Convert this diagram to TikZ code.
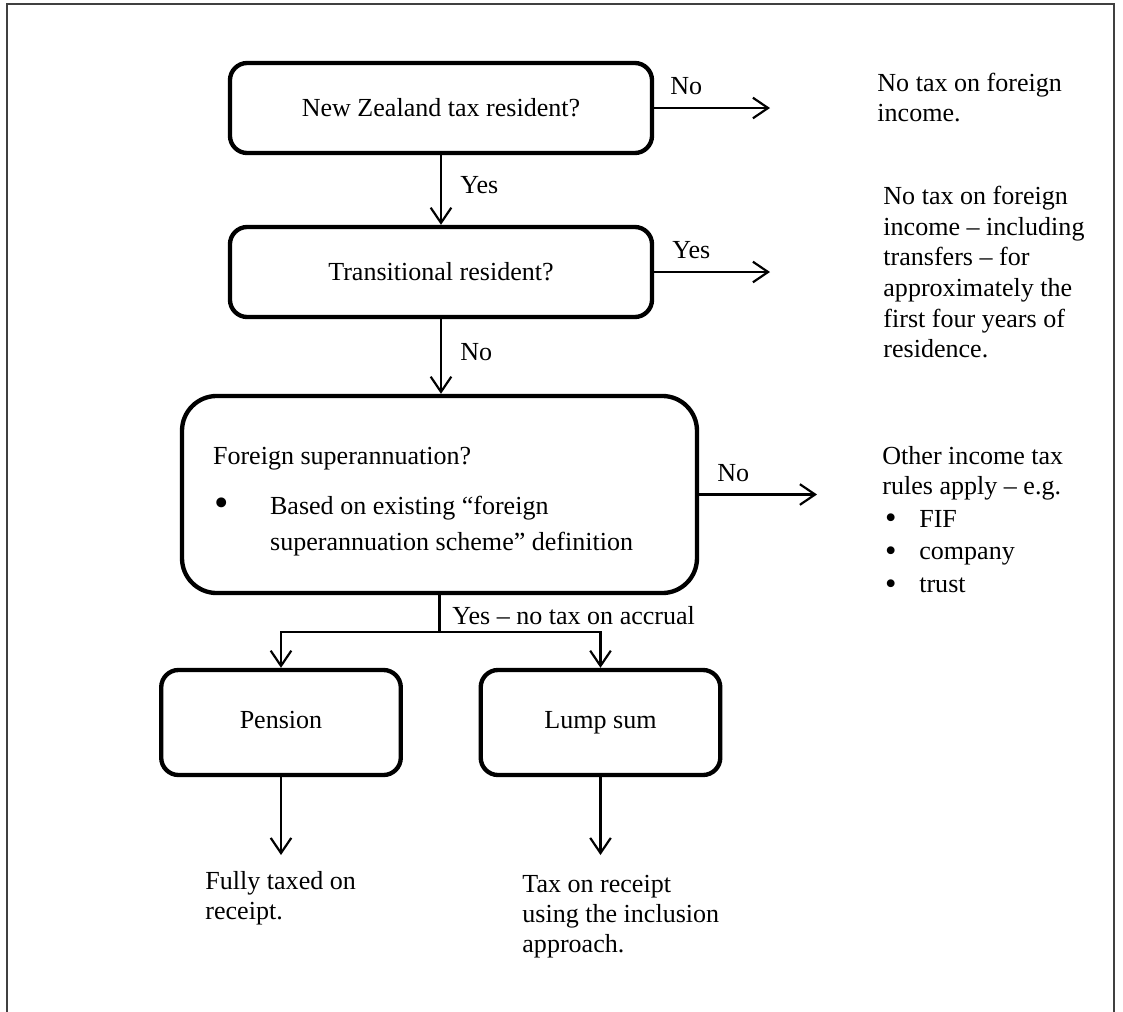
\documentclass[tikz,border=0pt]{standalone}
\usepackage{fontspec}
\setmainfont{Liberation Serif}
\usetikzlibrary{arrows.meta,calc}
\newcommand{\bigbul}{{\fontsize{19}{12}\selectfont\raisebox{-1.2pt}{•}}}
\newcommand{\midbul}{{\fontsize{15}{12}\selectfont\raisebox{-0.6pt}{•}}}
\begin{document}
\begin{tikzpicture}[x=0.4608pt,y=-0.4608pt,
  every node/.style={font=\fontsize{12}{13.8}\selectfont},
  qbox/.style={draw,line width=2pt,rounded corners=8pt,minimum width=194.5pt,minimum height=41.5pt,inner sep=0pt},
  sbox/.style={draw,line width=2pt,rounded corners=8pt,minimum width=110.4pt,minimum height=48.4pt,inner sep=0pt,text height=8.2pt,text depth=2.6pt},
  bigbox/.style={draw,line width=2pt,rounded corners=16pt,text width=208.7pt,inner xsep=14.3pt,inner ysep=0pt,minimum height=90.8pt,align=flush left},
  lbl/.style={anchor=west,inner sep=0pt},
  txt/.style={anchor=north west,inner sep=0pt,align=flush left},
  conn/.style={line width=1pt},
  arr/.style={line width=1pt,-{Straight Barb[length=7pt,width=9.5pt]}},
  frame/.style={line width=0.9pt,black!75}
]
\useasboundingbox (0,0) rectangle (1123,1012);
\draw[frame] (7,1012) -- (7,4) -- (1114,4) -- (1114,1012);

% boxes
\node[qbox] (b1) at (441,108) {New Zealand tax resident?};
\node[qbox] (b2) at (441,272) {Transitional resident?};
\node[bigbox] (b3) at (439.5,494.5) {\rule{0pt}{14.6pt}Foreign superannuation?\\[9.2pt]
\makebox[26.3pt][l]{\hspace{0.8pt}\bigbul}Based on existing “foreign\\[3.2pt]
\hspace*{26.3pt}superannuation scheme” definition};
\node[sbox] (pen) at (281,722.5) {Pension};
\node[sbox] (lump) at (600.5,722.5) {Lump sum};

% outcome texts
\node[txt] (t1) at (877,73) {No tax on foreign\\income.};
\node[txt] (t2) at (883,186) {No tax on foreign\\[0.3pt]income – including\\[0.3pt]transfers – for\\[0.3pt]approximately the\\[0.3pt]first four years of\\[0.3pt]residence.};
\node[txt] (t3) at (882,446) {Other income tax\\rules apply – e.g.\\[1.3pt]
\makebox[17pt][l]{\hspace{1.2pt}\midbul}FIF\\[1.3pt]
\makebox[17pt][l]{\hspace{1.2pt}\midbul}company\\[1.3pt]
\makebox[17pt][l]{\hspace{1.2pt}\midbul}trust};
\node[txt] (t4) at (205,871) {Fully taxed on\\receipt.};
\node[txt] (t5) at (522,875) {Tax on receipt\\using the inclusion\\approach.};

% coordinates for free ends
\coordinate (e1) at (770,108);
\coordinate (e2) at (770,272);
\coordinate (e3) at (817,494.5);
\coordinate (j) at (440,632);
\coordinate (p1) at (281,855);
\coordinate (l1) at (600.5,855);

% connectors
\draw[arr] (b1.east) -- (e1);
\draw[arr] (b2.east) -- (e2);
\draw[arr] (b3.east) -- (e3);
\draw[arr] (b1.south) -- (b2.north);
\draw[arr] (b2.south) -- (b2.south |- b3.north);
\draw[conn] (b3.south) -- (b3.south |- j);
\draw[arr] (b3.south |- j) -| (pen.north);
\draw[arr] (b3.south |- j) -| (lump.north);
\draw[arr] (pen.south) -- (p1);
\draw[arr] (lump.south) -- (l1);

% labels
\node[lbl] (n1) at (670,86) {No};
\node[lbl] (y1) at (460,185) {Yes};
\node[lbl] (y2) at (672,250) {Yes};
\node[lbl] (n2) at (460,352) {No};
\node[lbl] (n3) at (717,473) {No};
\node[lbl] (y3) at (452,616) {Yes – no tax on accrual};
\end{tikzpicture}
\end{document}
